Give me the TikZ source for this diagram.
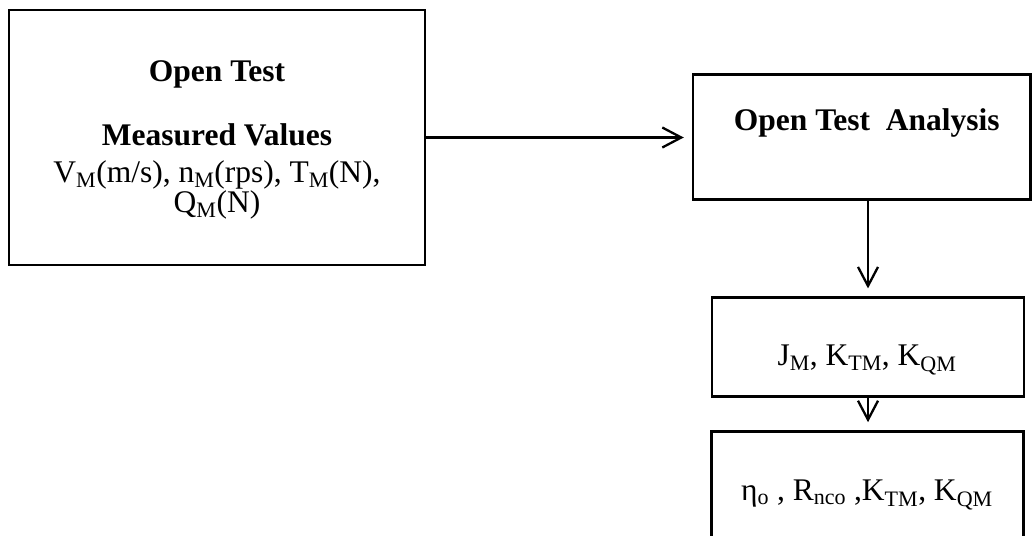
\documentclass[tikz,border=0pt]{standalone}
\usepackage{fontspec}
\setmainfont{Liberation Serif}
\usetikzlibrary{arrows.meta}
\tikzset{
  box/.style={draw, line width=2.6pt, rectangle, inner sep=0pt},
  txt/.style={font=\fontsize{31.5}{36}\selectfont, inner sep=0pt, anchor=base},
  btxt/.style={inner sep=0pt, anchor=base, font=\fontsize{31.5}{36}\selectfont\bfseries},
  flow/.style={line width=2.3pt, -{Straight Barb[length=19pt,width=20pt]}, shorten >=8pt},
}
\begin{document}
\begin{tikzpicture}[x=1pt,y=-1pt]
\useasboundingbox (0,0) rectangle (1032,535);
\clip (0,0) rectangle (1032,535);
% boxes
\node[box, minimum width=416pt, minimum height=255pt] (b1) at (217,137.5) {};
\node[box, minimum width=337.5pt, minimum height=125pt] (b2) at (861.8,137) {};
\node[box, minimum width=312pt, minimum height=99pt] (b3) at (868,347.2) {};
\node[box, minimum width=311.8pt, minimum height=168.5pt] (b4) at (867.6,515.75) {};
% texts
\node[btxt] (t1) at (217,81.7) {Open Test};
\node[btxt] (t2) at (217,145.7) {Measured Values};
\node[txt] (t3) at (217,182) {V\textsubscript{M}(m/s), n\textsubscript{M}(rps), T\textsubscript{M}(N),};
\node[txt] (t4) at (217,212) {Q\textsubscript{M}(N)};
\node[btxt] (t5) at (866.8,130.5) {Open Test\ \ Analysis};
\node[txt] (t6) at (867,365) {J\textsubscript{M}, K\textsubscript{TM}, K\textsubscript{QM}};
\node[txt] (t7) at (867,500.7) {η\textsubscript{o} , R\textsubscript{nco} ,K\textsubscript{TM}, K\textsubscript{QM}};
% connectors
\draw[flow] (b1.east) -- (b1.east -| b2.west);
\draw[flow] (b2.south -| b3.north) -- (b3.north);
\draw[flow] (b3.south) -- (b3.south |- b4.north);
\end{tikzpicture}
\end{document}
